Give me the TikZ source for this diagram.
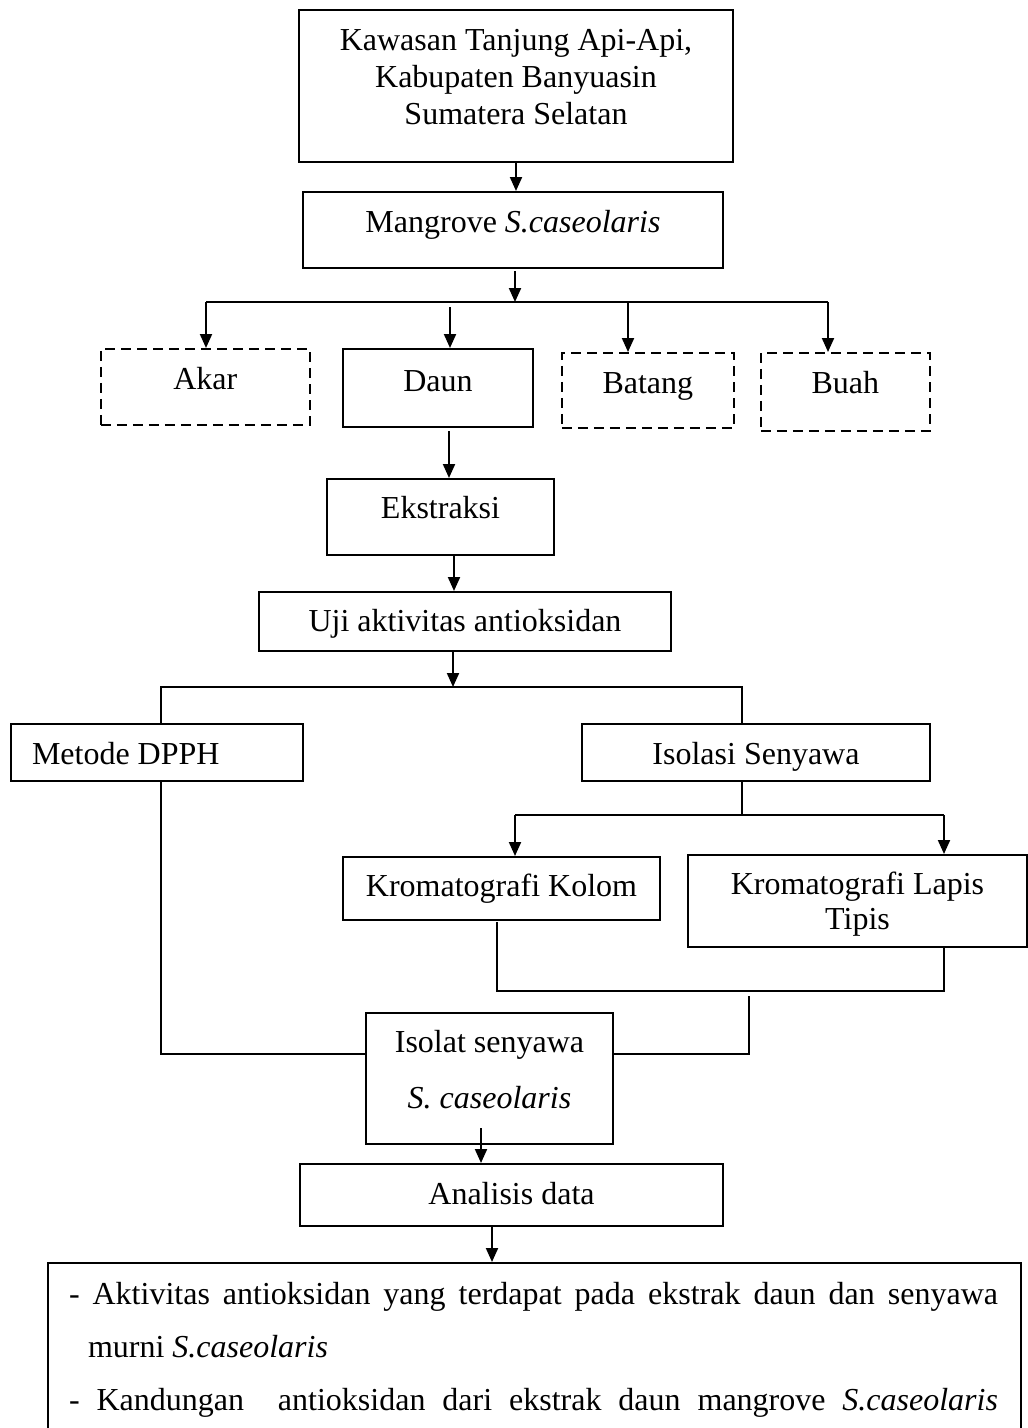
\documentclass[tikz,border=0pt]{standalone}
\usepackage{fontspec}
\setmainfont{Liberation Serif}
\usetikzlibrary{arrows.meta,calc}
\begin{document}
\begin{tikzpicture}[x=1pt,y=-1pt,
  font=\fontsize{32}{37}\selectfont,
  bx/.style={draw, rectangle, inner sep=0pt, anchor=north west, line width=2pt},
  dbx/.style={bx, line width=1.7pt, dash pattern=on 10pt off 6pt},
  arr/.style={-{Triangle[length=14pt,width=12pt]}, line width=2pt},
  ln/.style={line width=2pt}]
\useasboundingbox (0,0) rectangle (1028,1428);
\fill[white] (0,0) rectangle (1028,1428);
\clip (0,0) rectangle (1028,1428);

% boxes
\node[bx] (top) at (298,9) {\parbox[c][152pt][t]{434pt}{\centering\vspace*{15pt}\strut Kawasan Tanjung Api-Api,\\ Kabupaten Banyuasin\\ Sumatera Selatan}};
\node[bx, minimum width=420pt, text height=40pt, text depth=36pt] (mang) at (302,191) {Mangrove \textit{S.caseolaris}};
\node[dbx, minimum width=209pt, text height=41pt, text depth=35pt] (akar) at (100,348) {Akar};
\node[bx, minimum width=190pt, text height=42pt, text depth=36pt] (daun) at (342,348) {Daun};
\node[dbx, minimum width=172pt, text height=41pt, text depth=34pt] (batang) at (561,352) {Batang};
\node[dbx, minimum width=169pt, text height=41pt, text depth=37pt] (buah) at (760,352) {Buah};
\node[bx, minimum width=227pt, text height=39pt, text depth=37pt] (eks) at (326,478) {Ekstraksi};
\node[bx, minimum width=412pt, text height=39pt, text depth=20pt] (uji) at (258,591) {Uji aktivitas antioksidan};
\node[bx, minimum width=292pt, text height=40pt, text depth=17pt] (dpph) at (10,723) {\makebox[292pt][l]{\hspace*{21pt}Metode DPPH}};
\node[bx, minimum width=348pt, text height=40pt, text depth=17pt] (iso) at (581,723) {Isolasi Senyawa};
\node[bx, minimum width=317pt, text height=39pt, text depth=24pt] (kolom) at (342,856) {Kromatografi Kolom};
\node[bx] (klt) at (687,854) {\parbox[c][92pt][t]{339pt}{\fontsize{32}{35}\selectfont\centering\vspace*{15pt}\strut Kromatografi Lapis\\ Tipis}};
\node[bx] (isolat) at (365,1012) {\parbox[c][131pt][t]{247pt}{\fontsize{32}{56}\selectfont\centering\vspace*{0pt}\strut Isolat senyawa\\ \textit{S. caseolaris}}};
\node[bx, minimum width=423pt, text height=40pt, text depth=22pt] (ana) at (299,1163) {Analisis data};
\node[bx] (res) at (47,1262) {\parbox[c][230pt][t]{973pt}{\fontsize{32}{53}\selectfont\vspace*{3.9pt}\hspace*{21pt}\strut\makebox[929pt][s]{- Aktivitas antioksidan yang terdapat pada ekstrak daun dan senyawa}\\
\hspace*{40pt}murni \textit{S.caseolaris}\\
\hspace*{21pt}\makebox[929pt][s]{- Kandungan \ antioksidan dari ekstrak daun mangrove \textit{S.caseolaris}}}};

% coordinates
\coordinate (m1) at (515,271);
\coordinate (b1) at (515,302);
\coordinate (bL) at (206,302);
\coordinate (bB) at (628,302);
\coordinate (bR) at (828,302);
\coordinate (dA) at (450,307);
\coordinate (d1) at (449,431);
\coordinate (e1) at (454,556);
\coordinate (u1) at (453,652);
\coordinate (b2) at (453,687);
\coordinate (b2L) at (161,687);
\coordinate (b2R) at (742,687);
\coordinate (b3L) at (515,815);
\coordinate (b3R) at (944,815);
\coordinate (k1) at (497,922);
\coordinate (k2) at (497,991);
\coordinate (k3) at (944,991);
\coordinate (j1) at (749,996);
\coordinate (j2) at (749,1054);
\coordinate (s1) at (481,1128);
\coordinate (a1) at (492,1227);

% connectors
\draw[arr] (top.south) -- (top.south |- mang.north);
\draw[arr] (m1) -- (b1);
\draw[ln] (bL) -- (bR);
\draw[arr] (bL) -- (bL |- akar.north);
\draw[arr] (dA) -- (dA |- daun.north);
\draw[arr] (bB) -- (bB |- batang.north);
\draw[arr] (bR) -- (bR |- buah.north);
\draw[arr] (d1) -- (d1 |- eks.north);
\draw[arr] (e1) -- (e1 |- uji.north);
\draw[arr] (u1) -- (b2);
\draw[ln] (b2L |- dpph.north) -- (b2L) -- (b2R) -- (b2R |- iso.north);
\draw[ln] (b2R |- iso.south) -- (b2R |- b3L);
\draw[ln] (b3L) -- (b3R);
\draw[arr] (b3L) -- (b3L |- kolom.north);
\draw[arr] (b3R) -- (b3R |- klt.north);
\draw[ln] (k1) -- (k2) -- (k3) -- (k3 |- klt.south);
\draw[ln] (j1) -- (j2) -- (j2 -| isolat.east);
\draw[ln] (b2L |- dpph.south) -- (b2L |- j2) -- (j2 -| isolat.west);
\draw[arr] (s1) -- (s1 |- ana.north);
\draw[arr] (a1) -- (a1 |- res.north);
\end{tikzpicture}
\end{document}
